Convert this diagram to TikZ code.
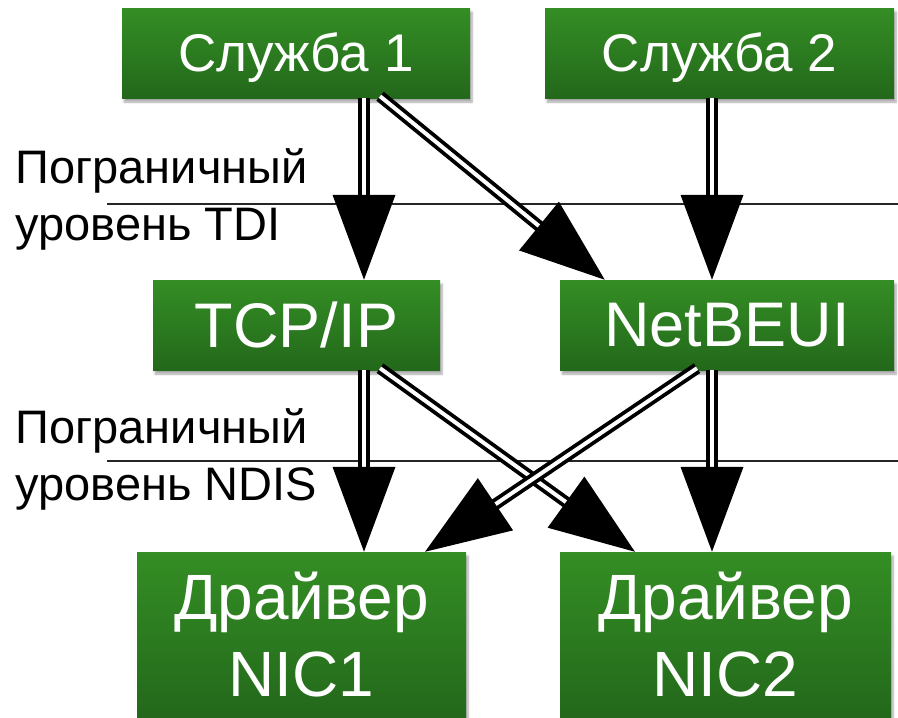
\documentclass[tikz,border=0pt]{standalone}
\usepackage{fontspec}
\setmainfont{Liberation Sans}
\usepackage{tikz}
\usepackage{xcolor}
\usetikzlibrary{arrows.meta}
\usetikzlibrary{shadows.blur}

\definecolor{boxtop}{RGB}{52,142,36}
\definecolor{boxbot}{RGB}{35,104,27}

\tikzset{
  box/.style={rectangle, inner sep=0pt, top color=boxtop, bottom color=boxbot,
    text=white, font=\fontsize{53}{60}\selectfont,
    blur shadow={shadow xshift=2pt, shadow yshift=-4pt, shadow blur steps=6, shadow opacity=35}},
  svcbox/.style={box, text depth=2pt},
  protobox/.style={box, font=\fontsize{63}{70}\selectfont},
  drvbox/.style={box, align=center, font=\fontsize{64}{77}\selectfont},
  layer/.style={anchor=base west, align=left, font=\fontsize{47}{57}\selectfont},
  bound/.style={draw=black!85, line width=1.3pt},
  link/.style={draw=black, double=white, line width=3.8pt, double distance=4pt,
    -{Triangle[length=85pt,width=62pt]}}
}

\begin{document}
\begin{tikzpicture}[x=1pt,y=-1pt]
  \useasboundingbox (0,0) rectangle (898,718);

  \node (s1) [svcbox, minimum width=348pt, minimum height=90pt] at (296,53) {Служба 1};
  \node (s2) [svcbox, minimum width=349pt, minimum height=90pt] at (719.5,53) {Служба 2};
  \node (tcp) [protobox, minimum width=287pt, minimum height=90pt] at (296.5,325) {TCP/IP};
  \node (nbeui) [protobox, minimum width=334pt, minimum height=90pt] at (727,325) {NetBEUI};
  \node (nic1) [drvbox, minimum width=329pt, minimum height=166pt] at (301.5,635) {Драйвер\\NIC1};
  \node (nic2) [drvbox, minimum width=331pt, minimum height=166pt] at (725.5,635) {Драйвер\\NIC2};

  \node (tdi) [layer] at (12,240) {Пограничный\\уровень TDI};
  \node (ndis) [layer] at (12,500) {Пограничный\\уровень NDIS};

  \draw[bound] (107,204) -- (898,204);
  \draw[bound] (107,461) -- (898,461);

  \path (node cs:name=s1,anchor=south) +(68,0) coordinate (s1a);
  \path (node cs:name=s1,anchor=south) +(84,-2) coordinate (s1b);
  \path (node cs:name=s2,anchor=south) +(-7.5,0) coordinate (s2a);
  \path (node cs:name=tcp,anchor=north) +(67.5,0) coordinate (tcpi);
  \path (node cs:name=tcp,anchor=south) +(67.5,0) coordinate (tcpa);
  \path (node cs:name=tcp,anchor=south) +(83.5,-2) coordinate (tcpb);
  \path (node cs:name=nbeui,anchor=north west) +(45,0) coordinate (nbi);
  \path (node cs:name=nbeui,anchor=north) +(-15,0) coordinate (nbj);
  \path (node cs:name=nbeui,anchor=south) +(-30,-2) coordinate (nba);
  \path (node cs:name=nbeui,anchor=south) +(-15,0) coordinate (nbb);
  \path (node cs:name=nic1,anchor=north) +(62.5,0) coordinate (n1i);
  \path (node cs:name=nic1,anchor=north) +(123.5,0) coordinate (n1j);
  \path (node cs:name=nic2,anchor=north) +(-90.5,0) coordinate (n2i);
  \path (node cs:name=nic2,anchor=north) +(-13.5,0) coordinate (n2j);

  \draw[link] (s1a) -- (tcpi);
  \draw[link] (s1b) -- (nbi);
  \draw[link] (s2a) -- (nbj);
  \draw[link] (tcpa) -- (n1i);
  \draw[link] (tcpb) -- (n2i);
  \draw[link] (nba) -- (n1j);
  \draw[link] (nbb) -- (n2j);
\end{tikzpicture}
\end{document}
